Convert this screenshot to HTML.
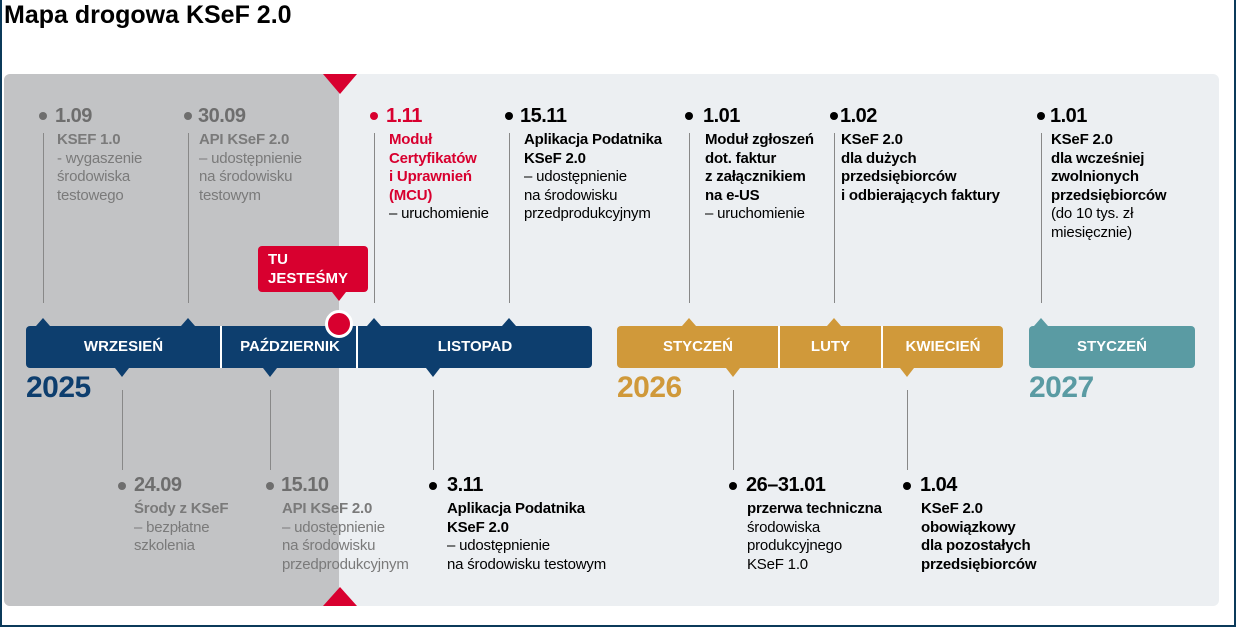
<!DOCTYPE html>
<html><head><meta charset="utf-8"><style>
*{margin:0;padding:0;box-sizing:border-box}
body{width:1236px;height:627px;background:#fff;font-family:"Liberation Sans",sans-serif;position:relative;overflow:hidden}
.frame{position:absolute;left:0;top:0;width:1236px;height:627px;border:2px solid #0b3a5a;border-top:none}
.title{position:absolute;left:4px;top:1px;font-size:25px;font-weight:bold;color:#000}
.panel{position:absolute;left:4px;top:74px;width:1215px;height:532px;background:#eceff2;border-radius:6px;overflow:hidden}
.past{position:absolute;left:0;top:0;width:335px;height:532px;background:#c2c3c5}
.abs{position:absolute}
.bar{position:absolute;top:326px;height:42px;border-radius:4px;color:#fff;font-weight:bold;font-size:15px}
.seg{position:absolute;top:0;height:42px;line-height:42px;text-align:center}
.div{position:absolute;top:0;width:2px;height:42px;background:#fff}
.vl{position:absolute;width:1px;background:#888}
.dot{position:absolute;width:8px;height:8px;border-radius:50%}
.date{position:absolute;font-size:20px;font-weight:bold;line-height:22px;letter-spacing:-0.5px}
.txt{position:absolute;font-size:15px;line-height:18.5px;white-space:nowrap;letter-spacing:-0.2px}
.txt b{font-weight:bold}
.year{position:absolute;top:371px;font-size:30px;font-weight:bold;letter-spacing:-0.5px}
.nt{position:absolute;width:0;height:0;border-left:7px solid transparent;border-right:7px solid transparent}
</style></head><body>
<div class="title">Mapa drogowa KSeF 2.0</div>
<div class="panel"><div class="past"></div></div>
<div class="nt" style="left:323px;top:74px;border-left-width:17px;border-right-width:17px;border-top:20px solid #d8002f"></div>
<div class="nt" style="left:323px;top:587px;border-left-width:17px;border-right-width:17px;border-bottom:19px solid #d8002f"></div>

<div class="bar" style="left:26px;width:566px;background:#0d3e6e">
 <div class="seg" style="left:0;width:195px">WRZESIEŃ</div>
 <div class="div" style="left:194px"></div>
 <div class="seg" style="left:196px;width:136px">PAŹDZIERNIK</div>
 <div class="div" style="left:330px"></div>
 <div class="seg" style="left:332px;width:234px">LISTOPAD</div>
</div>
<div class="bar" style="left:617px;width:386px;background:#d0993a">
 <div class="seg" style="left:0;width:162px">STYCZEŃ</div>
 <div class="div" style="left:161px"></div>
 <div class="seg" style="left:163px;width:101px">LUTY</div>
 <div class="div" style="left:264px"></div>
 <div class="seg" style="left:266px;width:120px">KWIECIEŃ</div>
</div>
<div class="bar" style="left:1029px;width:166px;background:#5a9ba3">
 <div class="seg" style="left:0;width:166px">STYCZEŃ</div>
</div>
<div class="nt" style="left:36px;top:318px;border-bottom:8px solid #0d3e6e"></div>
<div class="nt" style="left:181px;top:318px;border-bottom:8px solid #0d3e6e"></div>
<div class="nt" style="left:367px;top:318px;border-bottom:8px solid #0d3e6e"></div>
<div class="nt" style="left:502px;top:318px;border-bottom:8px solid #0d3e6e"></div>
<div class="nt" style="left:682px;top:318px;border-bottom:8px solid #d0993a"></div>
<div class="nt" style="left:827px;top:318px;border-bottom:8px solid #d0993a"></div>
<div class="nt" style="left:1034px;top:318px;border-bottom:8px solid #5a9ba3"></div>
<div class="nt" style="left:115px;top:368px;border-top:9px solid #0d3e6e"></div>
<div class="nt" style="left:263px;top:368px;border-top:9px solid #0d3e6e"></div>
<div class="nt" style="left:426px;top:368px;border-top:9px solid #0d3e6e"></div>
<div class="nt" style="left:726px;top:368px;border-top:9px solid #d0993a"></div>
<div class="nt" style="left:900px;top:368px;border-top:9px solid #d0993a"></div>

<div class="year" style="left:26px;color:#0d3e6e">2025</div>
<div class="year" style="left:617px;color:#d0993a">2026</div>
<div class="year" style="left:1029px;color:#5a9ba3">2027</div>

<div class="abs" style="left:258px;top:246px;width:110px;height:46px;background:#d8002f;border-radius:4px;color:#fff;font-weight:bold;font-size:15px;line-height:19px;padding:4px 0 0 10px">TU<br>JESTEŚMY</div>
<div class="nt" style="left:332px;top:292px;border-top:9px solid #d8002f"></div>
<div class="abs" style="left:325px;top:310px;width:28px;height:28px;border-radius:50%;background:#d8002f;border:3px solid #fff"></div>

<div class="vl" style="left:43px;top:133px;height:170px"></div>
<div class="dot" style="left:39px;top:112px;background:#6e6e6e"></div>
<div class="date" style="left:55px;top:105px;color:#6e6e6e">1.09</div>
<div class="txt" style="left:57px;top:131px;color:#7a7a7a"><b>KSEF 1.0</b><br>- wygaszenie<br>środowiska<br>testowego</div>

<div class="vl" style="left:188px;top:133px;height:170px"></div>
<div class="dot" style="left:184px;top:112px;background:#6e6e6e"></div>
<div class="date" style="left:198px;top:105px;color:#6e6e6e">30.09</div>
<div class="txt" style="left:199px;top:131px;color:#7a7a7a"><b>API KSeF 2.0</b><br>– udostępnienie<br>na środowisku<br>testowym</div>

<div class="vl" style="left:374px;top:133px;height:170px"></div>
<div class="dot" style="left:370px;top:112px;background:#d8002f"></div>
<div class="date" style="left:386px;top:105px;color:#d8002f">1.11</div>
<div class="txt" style="left:389px;top:131px;color:#000"><b style="color:#d8002f">Moduł<br>Certyfikatów<br>i Uprawnień<br>(MCU)</b><br>– uruchomienie</div>

<div class="vl" style="left:509px;top:133px;height:170px"></div>
<div class="dot" style="left:505px;top:112px;background:#000"></div>
<div class="date" style="left:520px;top:105px;color:#000">15.11</div>
<div class="txt" style="left:524px;top:131px;color:#000"><b>Aplikacja Podatnika<br>KSeF 2.0</b><br>– udostępnienie<br>na środowisku<br>przedprodukcyjnym</div>

<div class="vl" style="left:689px;top:133px;height:170px"></div>
<div class="dot" style="left:685px;top:112px;background:#000"></div>
<div class="date" style="left:703px;top:105px;color:#000">1.01</div>
<div class="txt" style="left:705px;top:131px;color:#000"><b>Moduł zgłoszeń<br>dot. faktur<br>z załącznikiem<br>na e-US</b><br>– uruchomienie</div>

<div class="vl" style="left:834px;top:133px;height:170px"></div>
<div class="dot" style="left:830px;top:112px;background:#000"></div>
<div class="date" style="left:840px;top:105px;color:#000">1.02</div>
<div class="txt" style="left:841px;top:131px;color:#000"><b>KSeF 2.0<br>dla dużych<br>przedsiębiorców<br>i odbierających faktury</b></div>

<div class="vl" style="left:1041px;top:133px;height:170px"></div>
<div class="dot" style="left:1037px;top:112px;background:#000"></div>
<div class="date" style="left:1050px;top:105px;color:#000">1.01</div>
<div class="txt" style="left:1051px;top:131px;color:#000"><b>KSeF 2.0<br>dla wcześniej<br>zwolnionych<br>przedsiębiorców</b><br>(do 10 tys. zł<br>miesięcznie)</div>

<div class="vl" style="left:122px;top:390px;height:80px"></div>
<div class="dot" style="left:118px;top:482px;background:#6e6e6e"></div>
<div class="date" style="left:134px;top:474px;color:#6e6e6e">24.09</div>
<div class="txt" style="left:134px;top:500px;color:#7a7a7a"><b>Środy z KSeF</b><br>– bezpłatne<br>szkolenia</div>

<div class="vl" style="left:270px;top:390px;height:80px"></div>
<div class="dot" style="left:266px;top:482px;background:#6e6e6e"></div>
<div class="date" style="left:281px;top:474px;color:#6e6e6e">15.10</div>
<div class="txt" style="left:282px;top:500px;color:#7a7a7a"><b>API KSeF 2.0</b><br>– udostępnienie<br>na środowisku<br>przedprodukcyjnym</div>

<div class="vl" style="left:433px;top:390px;height:80px"></div>
<div class="dot" style="left:429px;top:482px;background:#000"></div>
<div class="date" style="left:447px;top:474px;color:#000">3.11</div>
<div class="txt" style="left:447px;top:500px;color:#000"><b>Aplikacja Podatnika<br>KSeF 2.0</b><br>– udostępnienie<br>na środowisku testowym</div>

<div class="vl" style="left:733px;top:390px;height:80px"></div>
<div class="dot" style="left:729px;top:482px;background:#000"></div>
<div class="date" style="left:746px;top:474px;color:#000">26–31.01</div>
<div class="txt" style="left:747px;top:500px;color:#000"><b>przerwa techniczna</b><br>środowiska<br>produkcyjnego<br>KSeF 1.0</div>

<div class="vl" style="left:907px;top:390px;height:80px"></div>
<div class="dot" style="left:903px;top:482px;background:#000"></div>
<div class="date" style="left:920px;top:474px;color:#000">1.04</div>
<div class="txt" style="left:921px;top:500px;color:#000"><b>KSeF 2.0<br>obowiązkowy<br>dla pozostałych<br>przedsiębiorców</b></div>

<div class="frame"></div>
</body></html>
